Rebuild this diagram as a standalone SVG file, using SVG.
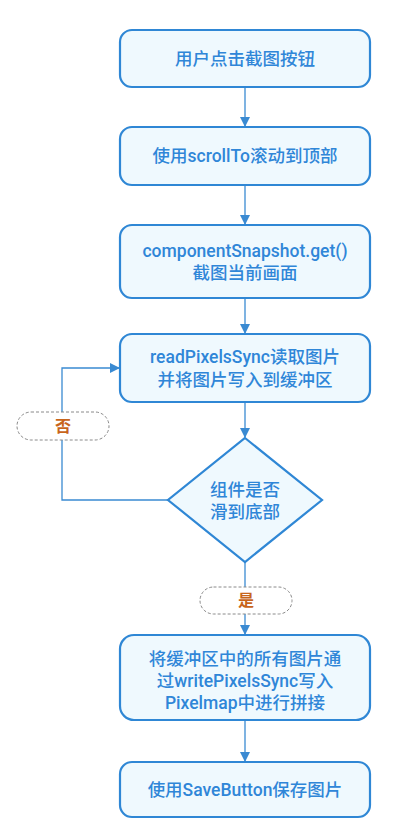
<svg xmlns="http://www.w3.org/2000/svg" width="410" height="832" viewBox="0 0 410 832">
<style>
.box{fill:#eff9fe;stroke:#2f87d5;stroke-width:2.2}
.t{font-family:Roboto,"Noto Sans CJK SC",sans-serif;font-size:17.5px;font-weight:500;fill:#2f86d8;text-anchor:middle}
.lbl{fill:#ffffff;stroke:#8a8a8a;stroke-width:1;stroke-dasharray:3 2}
.lt{font-family:"Noto Sans CJK SC",sans-serif;font-size:16px;fill:#c8651b;text-anchor:middle;font-weight:bold}
.ln{fill:none;stroke:#3a8ad2;stroke-width:1.3}
</style>
<defs>
<marker id="ah" markerWidth="10" markerHeight="10" refX="9" refY="5" orient="auto" markerUnits="userSpaceOnUse">
<path d="M0,0 L10,5 L0,10 z" fill="#3a8ad2"/>
</marker>
</defs>
<rect width="410" height="832" fill="#ffffff"/>
<g id="connectors">
<line class="ln" x1="245" y1="87" x2="245" y2="126" marker-end="url(#ah)"/>
<line class="ln" x1="245" y1="185" x2="245" y2="224" marker-end="url(#ah)"/>
<line class="ln" x1="245" y1="298" x2="245" y2="333" marker-end="url(#ah)"/>
<line class="ln" x1="245" y1="402" x2="245" y2="437" marker-end="url(#ah)"/>
<polyline class="ln" points="168,500 62,500 62,368 119,368" marker-end="url(#ah)"/>
<line class="ln" x1="245" y1="562" x2="245" y2="634" marker-end="url(#ah)"/>
<line class="ln" x1="245" y1="720" x2="245" y2="761" marker-end="url(#ah)"/>
</g>
<g id="no-label">
<rect class="lbl" x="17" y="412" width="92" height="28" rx="14"/>
<text class="lt" x="63" y="432">否</text>
</g>
<g id="yes-label">
<rect class="lbl" x="200" y="587" width="92" height="27" rx="13.5"/>
<text class="lt" x="246" y="606">是</text>
</g>
<g id="n1">
<rect class="box" x="120" y="30" width="250" height="57" rx="12"/>
<text class="t" x="245" y="65">用户点击截图按钮</text>
</g>
<g id="n2">
<rect class="box" x="120" y="127" width="250" height="58" rx="12"/>
<text class="t" x="245" y="162">使用scrollTo滚动到顶部</text>
</g>
<g id="n3">
<rect class="box" x="120" y="225" width="250" height="73" rx="12"/>
<text class="t" x="245" y="257">componentSnapshot.get()</text>
<text class="t" x="245" y="279">截图当前画面</text>
</g>
<g id="n4">
<rect class="box" x="120" y="334" width="250" height="68" rx="12"/>
<text class="t" x="245" y="363">readPixelsSync读取图片</text>
<text class="t" x="245" y="386">并将图片写入到缓冲区</text>
</g>
<g id="n5">
<polygon class="box" points="245,438 322,500 245,562 168,500"/>
<text class="t" x="245" y="496">组件是否</text>
<text class="t" x="245" y="518">滑到底部</text>
</g>
<g id="n6">
<rect class="box" x="120" y="635" width="250" height="85" rx="14"/>
<text class="t" x="245" y="665">将缓冲区中的所有图片通</text>
<text class="t" x="245" y="687">过writePixelsSync写入</text>
<text class="t" x="245" y="709">Pixelmap中进行拼接</text>
</g>
<g id="n7">
<rect class="box" x="120" y="762" width="250" height="55" rx="12"/>
<text class="t" x="245" y="796">使用SaveButton保存图片</text>
</g>
</svg>
